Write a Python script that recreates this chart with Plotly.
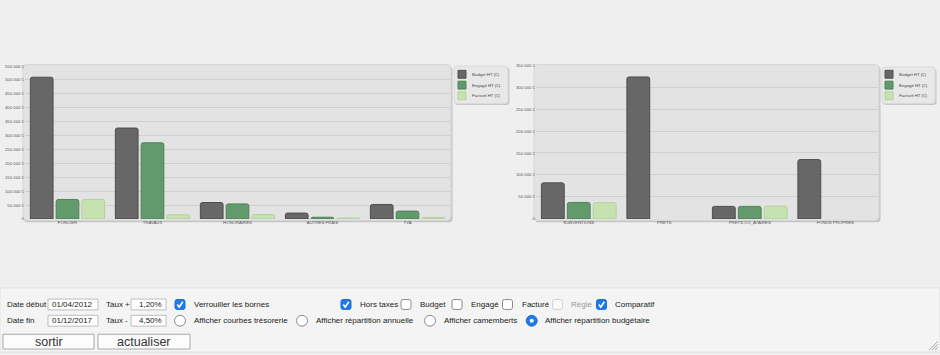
import plotly.graph_objects as go

# ---------------- data ----------------
cats_left = ["FONCIER", "TRAVAUX", "HONORAIRES", "AUTRES FRAIS", "TVA"]
budget_left = [510000, 327000, 59000, 21000, 52000]
engage_left = [70000, 274000, 54000, 6000, 28000]
facture_left = [70000, 15000, 16000, 3000, 5000]

cats_right = ["SUBVENTIONS", "PRETS", "PRETS CO_ATAIRES", "FONDS PROPRES"]
budget_right = [82000, 323000, 28500, 135000]
engage_right = [37500, None, 28500, None]
facture_right = [37000, None, 29000, None]

series_names = ["Budget HT (€)", "Engagé HT (€)", "Facturé HT (€)"]
ticks_left = list(range(0, 550001, 50000))
ticks_right = list(range(0, 350001, 50000))

W, H = 940, 355
def X(p): return p / W
def Y(p): return 1 - p / H

def fmt(v):
    return f"{v:,}".replace(",", " ") + " €" if v else "0"

bar_colors = ["#676767", "#639a6b", "#c7e2b1"]
bar_lines = ["#4e4e4e", "#4e8457", "#b3d19d"]

fig = go.Figure()
for i, vals in enumerate([budget_left, engage_left, facture_left]):
    fig.add_trace(go.Bar(x=cats_left, y=vals, name=series_names[i], xaxis="x", yaxis="y",
                         marker=dict(color=bar_colors[i], line=dict(color=bar_lines[i], width=1), cornerradius=2),
                         showlegend=False, hoverinfo="x+y"))
for i, vals in enumerate([budget_right, engage_right, facture_right]):
    fig.add_trace(go.Bar(x=cats_right, y=vals, name=series_names[i], xaxis="x2", yaxis="y2",
                         marker=dict(color=bar_colors[i], line=dict(color=bar_lines[i], width=1), cornerradius=2),
                         showlegend=False, hoverinfo="x+y"))

tickfont = dict(family="Liberation Sans, Arial", size=4.3, color="#555")
axis_common = dict(showline=False, zeroline=False, ticks="", fixedrange=True)

fig.update_layout(
    width=W, height=H, margin=dict(l=0, r=0, t=0, b=0),
    paper_bgcolor="#efefef", plot_bgcolor="rgba(0,0,0,0)",
    barmode="group", bargap=0.09, bargroupgap=0.12,
    xaxis=dict(domain=[X(25), X(450)], anchor="y", tickfont=tickfont, showgrid=False, **axis_common),
    yaxis=dict(domain=[Y(220), Y(65)], anchor="x", range=[0, 550000], tickvals=ticks_left,
               ticktext=[fmt(v) for v in ticks_left], tickfont=tickfont, showgrid=True,
               gridcolor="#d0d0d0", gridwidth=1, **axis_common),
    xaxis2=dict(domain=[X(536), X(878)], anchor="y2", tickfont=tickfont, showgrid=False, **axis_common),
    yaxis2=dict(domain=[Y(220), Y(64)], anchor="x2", range=[0, 350000], tickvals=ticks_right,
                ticktext=[fmt(v) for v in ticks_right], tickfont=tickfont, showgrid=True,
                gridcolor="#d0d0d0", gridwidth=1, **axis_common),
    showlegend=False,
)

shapes = []
annots = []

FORM_FONT = "Liberation Sans, Arial"
FS = 8.0

def rrect(x0, y0, x1, y1, r, fill, line=None, lw=1, layer="below"):
    p = (f"M {X(x0+r)},{Y(y0)} L {X(x1-r)},{Y(y0)} Q {X(x1)},{Y(y0)} {X(x1)},{Y(y0+r)} "
         f"L {X(x1)},{Y(y1-r)} Q {X(x1)},{Y(y1)} {X(x1-r)},{Y(y1)} "
         f"L {X(x0+r)},{Y(y1)} Q {X(x0)},{Y(y1)} {X(x0)},{Y(y1-r)} "
         f"L {X(x0)},{Y(y0+r)} Q {X(x0)},{Y(y0)} {X(x0+r)},{Y(y0)} Z")
    shapes.append(dict(type="path", xref="paper", yref="paper", path=p, fillcolor=fill,
                       line=dict(color=line or fill, width=lw if line else 0), layer=layer))

def rect(x0, y0, x1, y1, fill, line, lw=1, layer="above"):
    shapes.append(dict(type="rect", xref="paper", yref="paper", x0=X(x0), x1=X(x1), y0=Y(y1), y1=Y(y0),
                       fillcolor=fill, line=dict(color=line, width=lw), layer=layer))

def text(x, y, s, size=FS, color="#222", anchor="left", family=FORM_FONT):
    annots.append(dict(x=X(x), y=Y(y), xref="paper", yref="paper", text=s, showarrow=False,
                       xanchor=anchor, yanchor="middle", font=dict(family=family, size=size, color=color)))

# bottom form area background
rect(0, 290, 940, 355, "#f4f4f4", "#e2e2e2", 1, layer="below")

# plot boxes with shadow
for (x0, x1) in [(23, 451), (534, 879)]:
    rrect(x0 + 1, 64 + 1.5, x1 + 1.5, 222 + 1.5, 4, "#c4c4c4")
    rrect(x0, 63.5, x1, 221.5, 4, "#e3e3e3", "#d6d6d6", 1)

# legends
for (lx0, lx1, ly0, ly1, sx, tx) in [(454, 508, 65, 103, 458, 469.5), (882, 935, 66, 103, 885, 896.5)]:
    rrect(lx0 + 1, ly0 + 1.5, lx1 + 1.5, ly1 + 1.5, 3, "#c6c6c6", layer="above")
    rrect(lx0, ly0, lx1, ly1, 3, "#e8e8e8", "#dadada", 1, layer="above")
    for k, cy in enumerate([73.3, 84.3, 95.2]):
        rect(sx, cy - 4, sx + 8, cy + 4, bar_colors[k], bar_lines[k], 1)
        text(tx, cy, series_names[k], size=4.3, color="#444", family="Liberation Sans, Arial")

# ---- form ----
def inputbox(x0, x1, yc, s, align="left"):
    rect(x0, yc - 5.5, x1, yc + 5.5, "#ffffff", "#bdbdbd", 1)
    if align == "left":
        text(x0 + 1.5, yc, s)
    else:
        text(x1 - 2, yc, s, anchor="right")

def checkbox(xc, yc, state):
    x0, x1, y0, y1 = xc - 5, xc + 5, yc - 5, yc + 5
    if state == "on":
        rrect(x0, y0, x1, y1, 2, "#1f7ae8", "#1a6fd6", 1, layer="above")
        p = f"M {X(x0+2.3)},{Y(yc)} L {X(x0+4.2)},{Y(y1-2.3)} L {X(x1-2.2)},{Y(y0+2.3)}"
        shapes.append(dict(type="path", xref="paper", yref="paper", path=p,
                           line=dict(color="#ffffff", width=1.6), layer="above"))
    elif state == "off":
        rrect(x0, y0, x1, y1, 2, "#ffffff", "#8c8c8c", 1, layer="above")
    else:
        rrect(x0, y0, x1, y1, 2, "#fafafa", "#d2d2d2", 1, layer="above")

def radio(xc, yc, on=False):
    r = 5.5
    if on:
        shapes.append(dict(type="circle", xref="paper", yref="paper", x0=X(xc - r), x1=X(xc + r),
                           y0=Y(yc + r), y1=Y(yc - r), fillcolor="#1f7ae8", line=dict(color="#1a6fd6", width=1), layer="above"))
        r2 = 2
        shapes.append(dict(type="circle", xref="paper", yref="paper", x0=X(xc - r2), x1=X(xc + r2),
                           y0=Y(yc + r2), y1=Y(yc - r2), fillcolor="#ffffff", line=dict(width=0), layer="above"))
    else:
        shapes.append(dict(type="circle", xref="paper", yref="paper", x0=X(xc - r), x1=X(xc + r),
                           y0=Y(yc + r), y1=Y(yc - r), fillcolor="#ffffff", line=dict(color="#8c8c8c", width=1), layer="above"))

r1, r2 = 306.8, 323.3
text(5, r1, "Date début")
inputbox(48, 98, r1, "01/04/2012")
text(104, r1, "Taux +")
inputbox(131, 166, r1, "1,20%", align="right")
checkbox(180, r1, "on")
text(192, r1, "Verrouiller les bornes")

checkbox(346, r1, "on"); text(358, r1, "Hors taxes")
checkbox(406, r1, "off"); text(418, r1, "Budget")
checkbox(457, r1, "off"); text(469, r1, "Engagé")
checkbox(507.5, r1, "off"); text(520, r1, "Facturé")
checkbox(557.5, r1, "dis"); text(569, r1, "Réglé", color="#9a9a9a")
checkbox(601.5, r1, "on"); text(613, r1, "Comparatif")

text(5, r2, "Date fin")
inputbox(48, 98, r2, "01/12/2017")
text(104, r2, "Taux -")
inputbox(131, 166, r2, "4,50%", align="right")
radio(180, r2); text(192, r2, "Afficher courbes trésorerie")
radio(302, r2); text(314, r2, "Afficher répartition annuelle")
radio(430, r2); text(441.5, r2, "Afficher camemberts")
radio(531.7, r2, on=True); text(543.3, r2, "Afficher répartition budgétaire")

# buttons
for (bx0, bx1, s) in [(3, 94, "sortir"), (98, 190, "actualiser")]:
    rect(bx0, 337, bx1, 352, "#fcfcfc", "#a9a9a9", 1)
    text((bx0 + bx1) / 2, 344.8, s, size=12.5, color="#333", anchor="center", family="Liberation Sans, Arial")

# resize grip
for d in [3, 6, 9]:
    shapes.append(dict(type="line", xref="paper", yref="paper", x0=X(938 - d), y0=Y(353), x1=X(938), y1=Y(353 - d),
                       line=dict(color="#9a9a9a", width=0.8), layer="above"))

fig.update_layout(shapes=shapes, annotations=annots)
fig.write_html("out.html")
